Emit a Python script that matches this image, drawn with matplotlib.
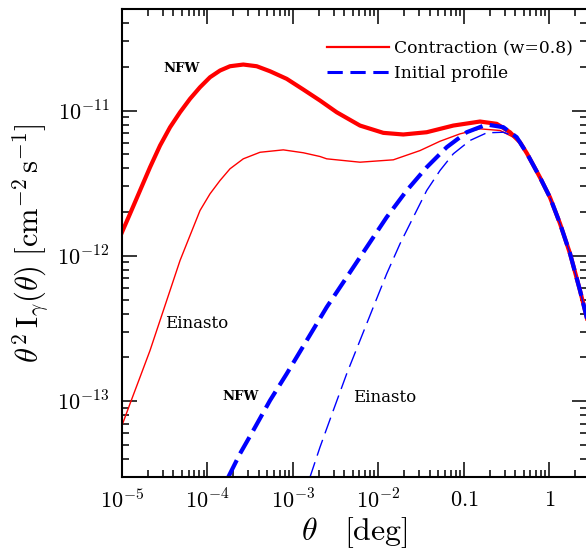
import numpy as np
import matplotlib
matplotlib.use("Agg")
import matplotlib.pyplot as plt
from matplotlib.lines import Line2D
from matplotlib.ticker import FixedLocator, LogLocator, NullFormatter

plt.rcParams["font.family"] = ["DejaVu Serif"]
plt.rcParams["mathtext.fontset"] = "cm"

# theta [deg] and theta^2 I_gamma [cm^-2 s^-1]
# common tail where all four profiles coincide
TAIL_THETA = [0.5475, 0.7775, 1.018, 1.332, 1.744, 2.284, 2.758]
TAIL_FLUX = [5.06e-12, 3.46e-12, 2.52e-12, 1.668e-12, 1.037e-12, 5.77e-13, 3.70e-13]

# NFW, with adiabatic contraction
NFW_CON_THETA = [1.00e-5, 1.241e-5, 1.625e-5, 2.128e-5, 2.786e-5, 3.648e-5, 4.775e-5,
                 6.25e-5, 8.18e-5, 1.071e-4, 1.402e-4, 1.835e-4, 2.625e-4, 3.767e-4,
                 5.39e-4, 8.45e-4, 1.322e-3, 2.073e-3, 3.251e-3, 6.09e-3, 1.141e-2,
                 1.955e-2, 3.673e-2, 7.52e-2, 0.1544, 0.2421, 0.3463, 0.4535]
NFW_CON_FLUX = [1.453e-12, 1.945e-12, 2.814e-12, 4.07e-12, 5.74e-12, 7.67e-12, 9.73e-12,
                1.204e-11, 1.447e-11, 1.695e-11, 1.885e-11, 2.018e-11, 2.073e-11, 2.018e-11,
                1.864e-11, 1.653e-11, 1.395e-11, 1.172e-11, 9.73e-12, 7.88e-12, 7.02e-12,
                6.84e-12, 7.09e-12, 7.88e-12, 8.40e-12, 8.10e-12, 7.09e-12, 6.05e-12]

# Einasto, with adiabatic contraction
EIN_CON_THETA = [1.00e-5, 1.241e-5, 1.625e-5, 2.128e-5, 2.786e-5, 3.648e-5, 4.775e-5,
                 6.25e-5, 8.18e-5, 1.071e-4, 1.402e-4, 1.835e-4, 2.625e-4, 4.12e-4,
                 7.71e-4, 1.322e-3, 2.073e-3, 2.483e-3, 6.09e-3, 1.494e-2, 3.066e-2,
                 5.255e-2, 9.01e-2, 0.1544, 0.2647, 0.3787, 0.4535]
EIN_CON_FLUX = [6.80e-14, 9.58e-14, 1.460e-13, 2.230e-13, 3.587e-13, 5.77e-13, 9.28e-13,
                1.380e-12, 2.050e-12, 2.671e-12, 3.298e-12, 3.971e-12, 4.651e-12, 5.16e-12,
                5.36e-12, 5.12e-12, 4.825e-12, 4.651e-12, 4.409e-12, 4.578e-12, 5.30e-12,
                6.145e-12, 6.91e-12, 7.48e-12, 7.29e-12, 6.55e-12, 6.05e-12]

# initial NFW profile
NFW_INI_THETA = [1.279e-4, 1.752e-4, 2.402e-4, 3.437e-4, 5.39e-4, 8.45e-4, 1.449e-3,
                 2.483e-3, 4.256e-3, 7.295e-3, 1.250e-2, 2.143e-2, 3.673e-2, 6.295e-2,
                 0.1079, 0.1849, 0.2891, 0.415]
NFW_INI_FLUX = [2.07e-14, 2.995e-14, 4.34e-14, 6.28e-14, 1.009e-13, 1.541e-13, 2.613e-13,
                4.429e-13, 7.12e-13, 1.146e-12, 1.844e-12, 2.814e-12, 4.07e-12, 5.59e-12,
                7.09e-12, 8.01e-12, 7.68e-12, 6.55e-12]

# initial Einasto profile
EIN_INI_THETA = [1.283e-3, 1.583e-3, 2.073e-3, 2.966e-3, 4.256e-3, 6.09e-3, 8.71e-3,
                 1.250e-2, 1.789e-2, 2.560e-2, 3.673e-2, 5.255e-2, 7.52e-2, 0.1179,
                 0.1849, 0.2891, 0.415]
EIN_INI_FLUX = [2.07e-14, 2.995e-14, 4.816e-14, 8.62e-14, 1.541e-13, 2.613e-13, 4.429e-13,
                7.52e-13, 1.209e-12, 1.844e-12, 2.814e-12, 3.865e-12, 5.035e-12, 6.22e-12,
                7.02e-12, 7.09e-12, 6.55e-12]

XTICKS = [1e-5, 1e-4, 1e-3, 1e-2, 0.1, 1]
XTICK_LABELS = [r"$10^{-5}$", r"$10^{-4}$", r"$10^{-3}$", r"$10^{-2}$", r"$0.1$", r"$1$"]
YTICKS = [1e-13, 1e-12, 1e-11]
YTICK_LABELS = [r"$10^{-13}$", r"$10^{-12}$", r"$10^{-11}$"]


def full(theta, flux):
    return np.array(theta + TAIL_THETA), np.array(flux + TAIL_FLUX)


fig = plt.figure(figsize=(5.86, 5.49), dpi=100)
ax = fig.add_axes([122 / 586, 1 - 477 / 549, 465 / 586, 468 / 549])

x, y = full(NFW_CON_THETA, NFW_CON_FLUX)
ax.plot(x, y, color="red", lw=3.0, solid_joinstyle="round")
x, y = full(EIN_CON_THETA, EIN_CON_FLUX)
ax.plot(x, y, color="red", lw=1.0, solid_joinstyle="round")
x, y = full(NFW_INI_THETA, NFW_INI_FLUX)
ax.plot(x, y, color="blue", lw=3.0, ls=(0, (4.5, 1.8)))
x, y = full(EIN_INI_THETA, EIN_INI_FLUX)
ax.plot(x, y, color="blue", lw=1.0, ls=(0, (12, 5)))

ax.set_xscale("log")
ax.set_yscale("log")
ax.set_xlim(1e-5, 10 ** 0.4405)
ax.set_ylim(3.0e-14, 5.0e-11)

ax.xaxis.set_major_locator(FixedLocator(XTICKS))
ax.set_xticklabels(XTICK_LABELS)
ax.yaxis.set_major_locator(FixedLocator(YTICKS))
ax.set_yticklabels(YTICK_LABELS)
ax.xaxis.set_minor_locator(LogLocator(base=10, subs=np.arange(2, 10), numticks=20))
ax.yaxis.set_minor_locator(LogLocator(base=10, subs=np.arange(2, 10), numticks=20))
ax.xaxis.set_minor_formatter(NullFormatter())
ax.yaxis.set_minor_formatter(NullFormatter())
ax.tick_params(which="both", direction="in", top=True, right=True, width=1.1,
               labelsize=16, pad=9)
ax.tick_params(which="major", length=10.5)
ax.tick_params(which="minor", length=5)
for s in ax.spines.values():
    s.set_linewidth(1.5)

ax.set_xlabel(r"$\theta\quad[\mathrm{deg}]$", fontsize=23, labelpad=1.5)
ax.set_ylabel(r"$\theta^2\,\mathrm{I}_\gamma(\theta)\ [\mathrm{cm}^{-2}\,\mathrm{s}^{-1}]$",
              fontsize=22, labelpad=4)

# curve labels (axes-fraction positions)
ax.text((182 - 122) / 465, (477 - 69) / 468, "NFW", fontsize=9.5, fontweight="bold",
        ha="center", va="center", transform=ax.transAxes)
ax.text((197 - 122) / 465, (477 - 324) / 468, "Einasto", fontsize=12,
        ha="center", va="center", transform=ax.transAxes)
ax.text((241 - 122) / 465, (477 - 397) / 468, "NFW", fontsize=9.5, fontweight="bold",
        ha="center", va="center", transform=ax.transAxes)
ax.text((385 - 122) / 465, (477 - 397) / 468, "Einasto", fontsize=12,
        ha="center", va="center", transform=ax.transAxes)

handles = [Line2D([], [], color="red", lw=1.6),
           Line2D([], [], color="blue", lw=2.2, ls=(0, (5, 2.5)))]
ax.legend(handles, ["Contraction (w=0.8)", "Initial profile"], loc="upper left",
          bbox_to_anchor=((327 - 122) / 465, (477 - 40) / 468), frameon=False,
          fontsize=12.3, handlelength=3.6, handletextpad=0.35, labelspacing=0.45,
          borderaxespad=0, borderpad=0)

fig.savefig("out.png", dpi=100)
